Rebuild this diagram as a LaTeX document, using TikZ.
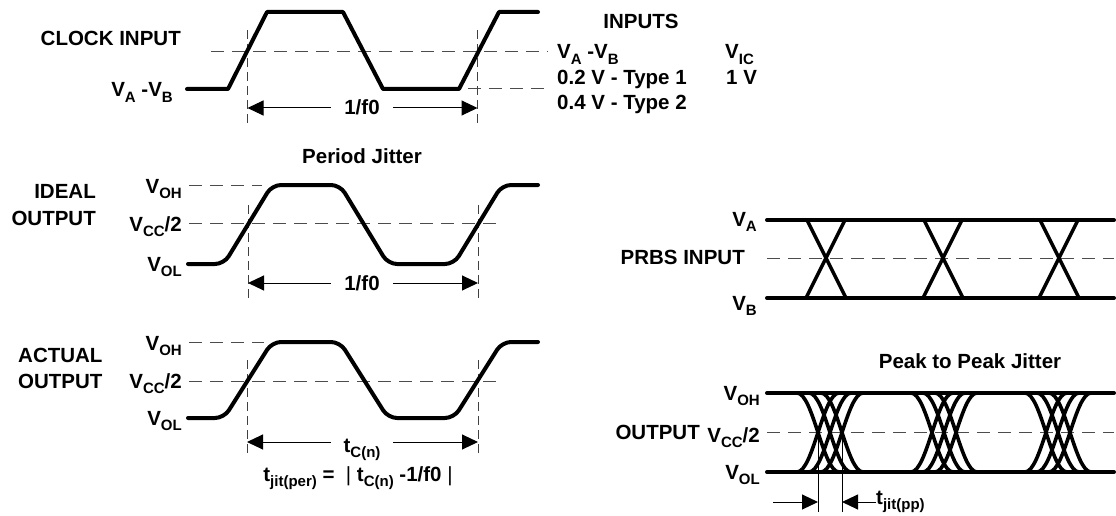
\documentclass[tikz,border=0pt]{standalone}
\usepackage{fontspec}
\setmainfont{Liberation Sans}
\usetikzlibrary{arrows.meta}
\newcommand\sbs[1]{\raisebox{-0.26em}{\fontsize{15}{16}\selectfont #1}}
\tikzset{
  lbl/.style={font=\bfseries\fontsize{20.5}{22}\selectfont, inner sep=0pt},
  wave/.style={line width=4pt, line cap=round, line join=round},
  eyec/.style={line width=3.6pt},
  refd/.style={line width=1pt, black!70, dash pattern=on 13pt off 8pt},
  tick/.style={line width=0.9pt, black!75, dash pattern=on 9pt off 5pt},
  dim/.style={line width=1pt, {Triangle[length=16pt,width=15pt]}-{Triangle[length=16pt,width=15pt]}},
  dimlab/.style={lbl, fill=white, inner xsep=13pt, inner ysep=1pt},
  hd/.style={line width=1pt, -{Triangle[length=16pt,width=15pt]}},
}
\begin{document}
\begin{tikzpicture}[x=1pt,y=-1pt]
\useasboundingbox (0,0) rectangle (1116,516);

% ---------------- CLOCK INPUT ----------------
\node[lbl, anchor=base east] (clk) at (181,46) {CLOCK INPUT};
\node[lbl, anchor=base east] (vab) at (173,97) {V\sbs{A} -V\sbs{B}};
\draw[refd] (211,52) -- (548,52);
\draw[refd] (468,89) -- (548,89);
\coordinate (c1t) at (247.5,30); \coordinate (c1b) at (247.5,127);
\coordinate (c2t) at (477.5,30); \coordinate (c2b) at (477.5,127);
\draw[tick] (c1t) -- (c1b);
\draw[tick] (c2t) -- (c2b);
\draw[wave] (187,89) -- (228,89) -- (267,12) -- (343,12) -- (383,89) -- (459,89) -- (499,12) -- (538,12);
\coordinate (c1a) at (247.5,108); \coordinate (c2a) at (477.5,108);
\draw[dim] (c1a) -- (c2a);
\node[dimlab, anchor=base] (f0a) at (362,115) {1/f0};

% inputs table
\node[lbl, anchor=base] (inp) at (641,29) {INPUTS};
\node[lbl, anchor=base west] (ivab) at (557,59) {V\sbs{A} -V\sbs{B}};
\node[lbl, anchor=base west] (ivic) at (725,59) {V\sbs{IC}};
\node[lbl, anchor=base west] (it1) at (557,85) {0.2 V - Type 1};
\node[lbl, anchor=base west] (iv1) at (726,85) {1 V};
\node[lbl, anchor=base west] (it2) at (557,110) {0.4 V - Type 2};

% ---------------- IDEAL OUTPUT ----------------
\node[lbl, anchor=base] (pj) at (362,163) {Period Jitter};
\node[lbl, anchor=base east] (id1) at (96,198) {IDEAL};
\node[lbl, anchor=base east] (id2) at (96,225) {OUTPUT};
\node[lbl, anchor=base east] (ivoh) at (182,193) {V\sbs{OH}};
\node[lbl, anchor=base east] (ivcc) at (182,231) {V\sbs{CC}/2};
\node[lbl, anchor=base east] (ivol) at (182,271) {V\sbs{OL}};
\draw[refd] (189,185) -- (262,185);
\draw[refd] (189,223.5) -- (498,223.5);
\coordinate (i1t) at (248,205); \coordinate (i1b) at (248,300);
\coordinate (i2t) at (478,205); \coordinate (i2b) at (478,300);
\draw[tick] (i1t) -- (i1b);
\draw[tick] (i2t) -- (i2b);
\draw[wave, rounded corners=9pt] (188,264) -- (224,264) -- (272,185) -- (340,185) -- (388,264) -- (454,264) -- (502,185) -- (538,185);
\coordinate (i1a) at (248,283); \coordinate (i2a) at (478,283);
\draw[dim] (i1a) -- (i2a);
\node[dimlab, anchor=base] (f0b) at (362,290) {1/f0};

% ---------------- ACTUAL OUTPUT ----------------
\node[lbl, anchor=base west] (ac1) at (18,362) {ACTUAL};
\node[lbl, anchor=base west] (ac2) at (18,388) {OUTPUT};
\node[lbl, anchor=base east] (avoh) at (182,350) {V\sbs{OH}};
\node[lbl, anchor=base east] (avcc) at (182,388) {V\sbs{CC}/2};
\node[lbl, anchor=base east] (avol) at (182,425) {V\sbs{OL}};
\draw[refd] (189,342) -- (264,342);
\draw[refd] (189,381) -- (500,381);
\coordinate (a1t) at (247,360); \coordinate (a1b) at (247,455);
\coordinate (a2t) at (478,360); \coordinate (a2b) at (478,455);
\draw[tick] (a1t) -- (a1b);
\draw[tick] (a2t) -- (a2b);
\draw[wave, rounded corners=9pt] (188,418) -- (224,418) -- (272,342) -- (340,342) -- (388,418) -- (454,418) -- (502,342) -- (538,342);
\coordinate (a1a) at (247,442); \coordinate (a2a) at (478,442);
\draw[dim] (a1a) -- (a2a);
\node[dimlab, anchor=base] (tcn) at (362,452) {t\sbs{C(n)}};
\node[lbl, anchor=base] (form) at (358,481) {t\sbs{jit(per)} = \ {\mdseries|}\;t\sbs{C(n)} -1/f0\;{\mdseries|}};

% ---------------- PRBS INPUT ----------------
\node[lbl, anchor=base east] (pva) at (757,226) {V\sbs{A}};
\node[lbl, anchor=base east] (prbs) at (745,264) {PRBS INPUT};
\node[lbl, anchor=base east] (pvb) at (757,310) {V\sbs{B}};
\draw[refd] (767,258) -- (1114,258);
\draw[wave] (767,220) -- (1114,220);
\draw[wave] (767,298) -- (1114,298);
\foreach \c in {826,943,1059}{
  \draw[line width=3.5pt] (\c-19,220) -- (\c+20,298);
  \draw[line width=3.5pt] (\c+19,220) -- (\c-20,298);
}

% ---------------- OUTPUT EYE ----------------
\node[lbl, anchor=base] (ppj) at (970,368) {Peak to Peak Jitter};
\node[lbl, anchor=base east] (evoh) at (760,400) {V\sbs{OH}};
\node[lbl, anchor=base east] (eout) at (700,439) {OUTPUT};
\node[lbl, anchor=base east] (evcc) at (760,442) {V\sbs{CC}/2};
\node[lbl, anchor=base east] (evol) at (760,479) {V\sbs{OL}};
\draw[refd] (767,432) -- (1114,432);
\foreach \c in {830,944,1058}{
  \foreach \d in {-12,0,12}{
    \draw[eyec] (\c+\d-21,393) .. controls (\c+\d-5,393) and (\c+\d+5,472) .. (\c+\d+21,472);
    \draw[eyec] (\c+\d-21,472) .. controls (\c+\d-5,472) and (\c+\d+5,393) .. (\c+\d+21,393);
  }
}
\draw[wave] (767,393) -- (1114,393);
\draw[wave] (767,472) -- (1114,472);
\coordinate (j1t) at (818,432); \coordinate (j1b) at (818,512);
\coordinate (j2t) at (842,432); \coordinate (j2b) at (842,512);
\draw[line width=0.9pt] (j1t) -- (j1b);
\draw[line width=0.9pt] (j2t) -- (j2b);
\coordinate (j1s) at (773,502); \coordinate (j1e) at (818,502);
\coordinate (j2e) at (842,502);
\node[lbl, anchor=west] (tjpp) at (876,502) {t\sbs{jit(pp)}};
\draw[hd] (j1s) -- (j1e);
\draw[hd] (tjpp.west) -- (j2e);
\end{tikzpicture}
\end{document}
